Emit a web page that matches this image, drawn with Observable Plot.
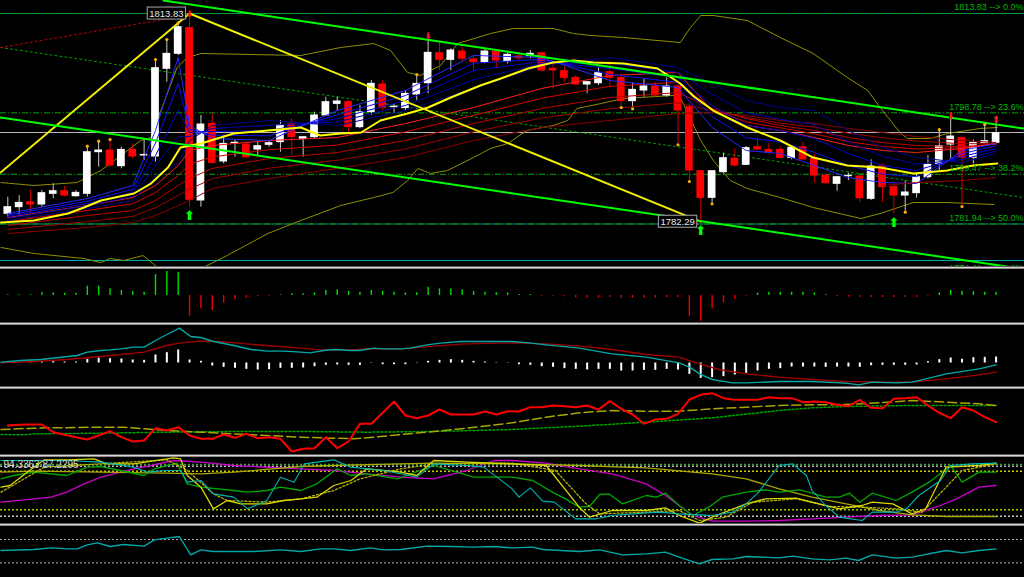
<!DOCTYPE html>
<html><head><meta charset="utf-8">
<script src="https://cdn.jsdelivr.net/npm/d3@7"></script>
<script src="https://cdn.jsdelivr.net/npm/@observablehq/plot@0.6"></script>
<style>
html,body{margin:0;padding:0;background:#000;width:1024px;height:577px;overflow:hidden;}
.pane{position:relative;width:1024px;overflow:hidden;background:#000;}
.sep{height:3px;width:1024px;background:linear-gradient(#5a5a5a 0 1px,#d8d8d8 1px 2px,#8a8a8a 2px 3px);}
svg{display:block;}
</style></head><body><div id="chart"></div><script>
// ---------- candles ----------
const open = [1783.48,1784.49,1785.24,1784.89,1786.51,1786.91,1786.15,1786.51,1792.82,1793.07,1790.70,1793.17,1792.32,1792.16,1805.45,1807.72,1811.61,1785.50,1797.11,1791.41,1794.18,1793.98,1793.22,1793.93,1794.34,1797.01,1794.84,1795.09,1798.38,1800.14,1800.40,1796.61,1798.88,1803.07,1799.64,1799.49,1801.56,1803.27,1807.82,1806.81,1808.07,1806.86,1806.46,1808.07,1806.61,1807.32,1807.37,1807.82,1805.45,1805.09,1804.08,1803.07,1803.27,1804.94,1804.08,1800.55,1802.16,1802.77,1801.41,1802.77,1799.64,1789.94,1785.90,1789.79,1791.81,1790.90,1793.58,1793.17,1793.17,1791.96,1793.58,1791.81,1789.28,1788.02,1789.18,1789.13,1785.75,1790.65,1787.52,1786.25,1786.61,1789.03,1791.05,1793.98,1794.94,1791.96,1794.18,1794.23];
const high = [1786.00,1786.25,1787.01,1787.01,1788.02,1787.62,1787.01,1793.58,1794.34,1794.59,1793.58,1794.08,1794.84,1806.71,1809.74,1812.26,1813.83,1798.38,1798.63,1795.35,1794.59,1794.34,1794.34,1794.59,1797.62,1797.87,1795.20,1798.88,1801.15,1801.15,1800.65,1799.89,1803.68,1803.68,1800.14,1802.16,1804.44,1810.50,1809.49,1808.48,1808.73,1807.47,1808.48,1808.33,1807.82,1807.97,1808.22,1807.97,1806.20,1805.70,1804.44,1803.43,1805.70,1806.61,1804.44,1803.27,1803.93,1803.43,1804.08,1803.17,1800.14,1790.04,1790.04,1792.67,1793.33,1793.68,1794.84,1794.18,1793.58,1793.68,1794.34,1792.57,1789.54,1789.13,1789.64,1789.28,1791.66,1791.05,1787.77,1788.43,1789.54,1792.32,1796.10,1798.38,1795.19,1794.69,1796.86,1797.87];
const low = [1782.97,1783.20,1783.48,1784.49,1785.75,1786.00,1786.00,1786.00,1790.55,1790.55,1790.30,1791.81,1791.56,1791.31,1803.43,1807.47,1784.49,1784.49,1791.05,1791.05,1792.06,1791.81,1792.32,1793.58,1792.82,1792.32,1792.06,1794.84,1798.38,1799.13,1795.85,1796.36,1798.38,1799.13,1798.63,1799.13,1800.65,1801.66,1805.19,1805.19,1806.46,1805.09,1806.20,1805.45,1806.20,1806.71,1806.96,1804.94,1802.42,1803.43,1802.92,1801.66,1802.92,1802.57,1799.74,1799.54,1801.15,1801.15,1801.15,1794.08,1788.53,1782.29,1785.14,1789.54,1790.55,1790.80,1793.07,1792.57,1791.81,1791.66,1791.56,1788.12,1788.02,1786.91,1788.53,1785.24,1785.50,1785.24,1783.48,1783.88,1785.85,1788.78,1790.04,1791.81,1784.74,1791.05,1794.08,1794.08];
const close = [1784.49,1785.14,1784.89,1786.61,1786.91,1786.25,1786.66,1792.82,1793.07,1790.80,1793.17,1792.16,1792.40,1805.55,1807.72,1811.76,1785.60,1797.01,1791.20,1794.08,1794.25,1792.06,1793.73,1794.18,1796.86,1795.09,1795.09,1798.38,1800.40,1800.50,1796.61,1798.88,1803.17,1799.54,1799.70,1801.66,1803.17,1807.87,1806.81,1808.22,1806.96,1806.46,1808.07,1806.71,1807.57,1807.06,1807.72,1805.19,1805.19,1804.08,1803.07,1803.43,1804.79,1804.08,1800.55,1802.26,1802.77,1801.41,1802.77,1799.13,1790.04,1785.90,1789.94,1791.91,1790.80,1793.43,1793.22,1792.77,1791.96,1793.48,1791.71,1789.28,1788.12,1789.03,1789.23,1785.85,1790.65,1787.52,1786.25,1786.71,1789.03,1790.90,1793.73,1795.19,1791.96,1794.23,1794.49,1795.70];

// ---------- main chart overlays ----------
const fibLevels = [1813.83, 1798.78, 1789.47, 1781.94, 1774.41];
const fibPct = ["0.0%", "23.6%", "38.2%", "50.0%", "61.8%"];
const bidPrice = 1795.80;
const cyanLevel = 1776.41;
const zigIdx = [-0.64, 16, 61];
const zigVal = [1789.74, 1813.83, 1782.29];
const trendUpIdx = [13.7, 89.4];
const trendUpVal = [1815.80, 1796.41];
const trendLoIdx = [-0.64, 89.5];
const trendLoVal = [1798.07, 1775.10];
const dotGreenIdx = [-0.64, 89.4];
const dotGreenVal = [1808.68, 1785.95];
const dotRedIdx = [-0.64, 15.8];
const dotRedVal = [1808.68, 1813.53];

const maIdx = [-0.6,2.3,5.3,6.7,8.2,11.1,12.6,14.1,15.2,17.0,19.9,22.9,25.8,27.5,29.3,31.1,32.8,35.2,37.0,39.0,41.6,43.4,45.8,48.0,49.8,51.6,54.2,57.2,59.2,60.4,62.1,65.1,68.0,70.9,73.9,76.8,79.7,82.7,85.0,87.1];
const maVal = [1782.16,1782.47,1783.53,1784.44,1785.50,1786.56,1788.07,1790.50,1793.53,1794.13,1795.65,1796.10,1796.56,1795.35,1795.65,1795.80,1797.62,1798.68,1799.59,1801.10,1802.92,1803.98,1805.50,1806.41,1806.71,1806.41,1806.25,1805.50,1803.22,1801.25,1799.13,1796.56,1794.59,1792.01,1790.80,1790.50,1789.59,1790.04,1790.80,1791.10];

const bbUIdx = [-0.6,2.3,6.1,8.2,11.7,12.6,14.9,15.8,17.0,25.8,29.3,32.2,33.7,35.2,36.3,38.1,39.6,42.5,44.5,48.0,49.8,51.3,54.2,59.2,60.1,61.0,62.1,65.1,68.0,70.9,73.9,75.7,76.8,78.6,79.2,81.2,82.7,85.6,87.1];
const bbUVal = [1788.22,1787.77,1788.22,1790.04,1794.59,1795.04,1805.65,1807.16,1807.77,1807.47,1808.68,1809.28,1808.22,1804.89,1804.44,1805.95,1809.28,1810.80,1811.56,1811.56,1810.80,1810.50,1810.19,1809.44,1811.71,1813.53,1813.53,1812.77,1810.19,1807.77,1804.13,1802.16,1799.59,1795.65,1794.89,1794.89,1795.65,1796.41,1796.56];
const bbLIdx = [-0.6,2.3,6.7,8.2,9.0,10.2,11.9,13.2,17.2,19.3,22.9,25.8,29.3,32.2,33.9,35.2,36.1,37.2,38.7,41.0,42.5,44.0,45.7,48.0,49.3,50.1,52.2,54.2,58.6,59.2,61.0,62.1,63.6,65.1,68.0,70.9,75.1,76.8,79.7,82.7,86.8];
const bbLVal = [1778.38,1777.47,1776.71,1776.10,1776.71,1776.41,1777.16,1775.35,1775.35,1777.16,1780.50,1782.47,1784.74,1785.95,1786.71,1788.53,1790.35,1789.59,1790.04,1792.01,1793.38,1794.13,1796.10,1796.86,1797.62,1799.44,1800.19,1800.95,1801.41,1801.10,1794.59,1791.56,1788.53,1787.31,1785.95,1784.44,1782.77,1783.53,1785.19,1785.19,1784.89];

const ribIdx = [0,7,11,13,15,16,18,23,29,35,41,47,53,59,62,65,68,71,74,77,80,84,87];
const blueFast = [1783.53,1785.80,1787.77,1796.10,1807.16,1796.86,1794.89,1794.59,1799.13,1802.16,1807.47,1807.16,1803.68,1802.62,1796.56,1793.07,1792.62,1790.80,1788.98,1788.22,1788.07,1793.07,1794.13];
const blueA = [1783.3,1785.4,1787.2,1794.2,1803.2,1796.3,1795.4,1795.3,1798.5,1801.4,1806.3,1806.9,1804.6,1803.4,1798.2,1795.0,1794.4,1792.8,1790.8,1789.5,1789.1,1792.6,1793.8];
const blueMid = [1783.07,1785.04,1786.71,1792.31,1799.13,1795.80,1795.95,1796.10,1797.92,1800.65,1805.19,1806.56,1805.50,1804.13,1799.89,1796.86,1796.10,1794.89,1792.62,1790.80,1790.04,1792.16,1793.38];
const blueB = [1782.8,1784.7,1786.1,1790.8,1795.1,1795.2,1796.4,1796.9,1797.4,1799.9,1803.8,1806.3,1806.3,1804.9,1801.6,1798.8,1797.8,1797.0,1794.4,1792.2,1791.0,1791.7,1793.0];
const blueSlow = [1782.47,1784.28,1785.50,1789.28,1791.10,1794.59,1796.86,1797.62,1796.86,1799.13,1802.47,1805.95,1807.16,1805.65,1803.22,1800.65,1799.59,1799.13,1796.10,1793.53,1792.01,1791.25,1792.62];
const redFast = [1782.92,1784.74,1785.95,1787.77,1790.80,1793.07,1793.83,1794.59,1795.04,1797.16,1799.59,1802.47,1804.44,1804.89,1799.13,1796.86,1796.10,1795.04,1793.83,1793.07,1792.77,1793.38,1794.13];
const redA = [1782.3,1784.0,1785.0,1786.7,1789.3,1791.0,1792.1,1793.2,1793.9,1795.9,1798.4,1801.0,1802.8,1803.4,1799.3,1797.4,1796.5,1795.6,1794.4,1793.7,1793.3,1793.5,1794.1];
const redMid = [1781.71,1783.22,1783.98,1785.50,1787.77,1788.83,1790.35,1791.86,1792.77,1794.59,1797.16,1799.44,1801.10,1801.86,1799.44,1797.92,1796.86,1796.10,1795.04,1794.28,1793.83,1793.68,1793.98];
const redB = [1781.1,1782.3,1783.1,1784.4,1786.3,1787.2,1788.8,1790.4,1791.6,1793.3,1795.9,1798.0,1799.4,1800.3,1799.1,1798.1,1797.2,1796.6,1795.7,1795.0,1794.5,1794.1,1794.1];
const redSlow = [1780.50,1781.41,1782.16,1783.22,1784.74,1785.50,1787.31,1788.83,1790.35,1792.01,1794.59,1796.56,1797.62,1798.68,1798.83,1798.38,1797.62,1797.16,1796.41,1795.80,1795.19,1794.59,1794.28];
const redLagIdx = [77, 80, 84, 87];
const redLagVal = [1787.77, 1788.22, 1788.53, 1788.98];

const dotIdx = [7,8,9,13,14,15,36,54,55,59,60,62,79,82,84,86,87];
const dotSide = ["h","h","h","h","h","h","h","l","l","l","l","l","l","h","l","h","h"];
const upArrowIdx = [16, 61, 78];
const downArrowIdx = [16, 37, 83, 87];
const boxIdx = [16, 61];
const boxSide = ["h", "l"];

// ---------- panel 2: histogram ----------
const hist = [2,2,2,8,8,7,7,28,28,20,15,12,10,63,72,70,-62,-40,-45,-23,-13,-8,-3,-2,2,5,5,8,15,17,12,10,15,12,10,8,8,25,20,20,17,12,10,8,8,3,3,-2,-2,-4,-7,-8,-8,-6,-8,-8,-8,-7,-6,-6,-63,-77,-40,-23,-12,-2,7,10,10,10,10,8,2,-3,-5,-6,-6,-6,-6,-6,-6,-2,8,15,13,12,10,10];

// ---------- panel 3: MACD ----------
const macdBars = [2,4,4,7,7,6,6,14,18,16,15,12,11,27,34,42,12,8,-6,-10,-13,-16,-18,-17,-13,-13,-12,-8,-4,-3,-4,-4,2,-2,-2,-2,2,8,11,13,11,8,6,4,4,-2,-4,-8,-10,-14,-16,-18,-16,-16,-21,-21,-19,-19,-16,-18,-31,-43,-41,-38,-33,-28,-21,-16,-14,-9,-9,-9,-10,-9,-9,-10,-5,-4,-4,-4,-3,7,13,18,14,19,20,21];
const macdCyanIdx = [-0.6,1.1,2.9,6.1,7.0,8.2,9.0,9.9,11.1,12.0,13.0,14.0,15.1,16.1,17.0,18.1,19.9,21.4,22.8,24.3,25.8,26.6,27.8,28.7,30.2,31.0,32.2,33.1,34.6,35.4,36.9,38.1,39.8,41.9,44.4,45.9,47.4,50.3,53.2,56.2,59.1,60.0,60.9,62.0,63.8,65.0,67.9,70.8,73.8,74.9,76.1,78.2,79.6,81.1,82.6,85.5,87.0];
const macdCyanVal = [4,9,12,24,34,39,41,44,49,49,69,87,106,81,78,66,54,42,37,37,34,32,39,42,39,39,46,44,44,46,56,61,66,66,66,62,56,46,29,19,2,-11,-31,-48,-58,-58,-54,-54,-59,-64,-56,-58,-56,-44,-31,-16,-4];
const macdRedIdx = [-0.6,2.3,5.2,8.2,12.0,14.0,15.2,17.0,18.4,19.9,22.8,25.8,27.5,30.2,31.6,34.6,37.5,40.4,44.4,47.4,50.3,53.2,56.2,59.1,60.9,62.6,65.0,67.9,70.8,73.8,76.7,79.6,82.6,85.5,87.0];
const macdRedVal = [2,6,12,21,34,54,62,67,66,62,54,46,41,41,44,44,52,59,62,59,52,42,27,19,-1,-18,-31,-41,-48,-54,-56,-56,-46,-34,-26];

// ---------- panel 4 ----------
const p4Red = [90,92,93,93,70,62,55,48,60,73,55,42,45,82,75,85,60,50,50,63,53,65,52,55,50,12,20,22,55,22,42,95,95,128,162,120,112,120,138,123,123,123,132,123,133,132,145,145,150,148,145,150,138,163,140,123,95,108,110,125,168,182,187,172,167,167,167,175,172,172,160,162,160,152,148,167,143,142,170,172,175,150,128,112,145,135,115,100];
const p4OliveIdx = [-0.6,2.3,3.8,8.2,10.2,12.0,14.0,17.0,19.9,22.8,25.8,28.7,30.5,31.6,34.6,37.5,40.4,44.4,47.4,50.3,53.2,56.2,59.1,62.0,65.0,67.9,70.8,73.8,76.7,79.6,82.6,85.5,87.0];
const p4OliveVal = [78,82,83,85,85,80,75,70,65,60,55,52,50,53,63,72,82,98,115,128,135,133,133,140,145,150,152,153,158,165,160,155,150];
const p4GreenIdx = [-0.6,1.4,2.3,8.2,14.0,19.9,25.8,31.6,37.5,44.4,50.3,56.2,62.0,67.9,70.8,73.8,79.6,87.0];
const p4GreenVal = [63,62,65,67,70,72,72,70,72,78,88,100,113,135,143,147,150,150];

// ---------- panel 5 ----------
const p5Label = "94.3363 87.2295";
const p5Levels = [178, 173, 158, 42, 23];
const p5LevelColor = ["#2ea82e", "#b0b0b0", "#c8c800", "#9ccc00", "#c0c0c0"];
const cyan5Idx = [-0.6,2.3,5.2,8.2,11.1,12.3,14.0,15.2,15.8,17.0,18.1,19.9,21.1,22.8,24.0,25.2,26.1,28.7,30.2,33.1,34.6,36.0,37.5,40.4,41.9,44.4,45.0,46.0,47.1,48.1,50.0,51.8,53.2,56.2,57.3,59.1,60.9,62.0,63.8,65.0,66.1,67.9,69.1,70.3,70.8,72.0,73.2,75.2,76.1,78.2,79.1,80.2,82.1,83.0,84.9,87.0];
const cyan5Val = [190,190,190,185,170,155,160,160,125,130,90,80,45,70,140,125,180,192,170,160,150,140,180,175,170,105,80,108,68,65,15,15,25,33,35,30,27,25,35,60,95,175,180,145,100,55,20,10,35,35,45,85,130,175,180,182];
const green5Idx = [-0.6,0.5,2.3,5.2,7.0,8.2,9.9,12.0,12.9,14.9,15.8,17.0,19.9,21.1,22.8,24.0,25.8,27.2,29.0,30.2,31.6,34.3,36.3,37.5,41.0,44.4,46.2,48.1,49.1,50.3,51.2,52.1,52.9,54.1,56.2,57.1,57.9,59.1,60.3,61.7,62.9,65.0,66.7,67.9,69.7,70.8,72.0,73.2,74.1,75.0,76.1,78.2,79.6,81.1,83.0,84.0,85.5,87.0];
const green5Val = [135,145,155,145,170,172,160,145,165,182,120,110,100,95,100,110,100,120,165,145,150,135,160,175,140,140,130,92,75,50,52,88,90,60,85,80,92,55,25,50,80,95,102,95,102,92,80,80,92,65,92,70,95,125,175,125,155,155];
const magenta5Idx = [-0.6,2.3,3.8,5.2,6.7,8.2,11.1,12.6,14.6,17.0,19.9,25.8,28.7,31.6,34.6,37.5,40.4,42.8,44.4,47.4,50.3,53.2,56.2,57.9,59.1,60.3,62.0,65.0,67.9,70.8,73.8,76.7,79.6,82.1,83.5,85.5,87.0];
const magenta5Val = [65,75,80,95,120,140,165,175,190,185,175,165,160,150,140,135,160,190,190,182,165,150,120,85,55,25,8,8,10,15,20,25,27,55,75,110,115];
const yellow5aIdx = [-0.6,0.2,1.7,3.2,5.2,7.6,8.7,11.1,14.6,15.2,15.8,17.0,18.1,19.3,20.5,22.8,24.3,25.8,27.2,28.7,30.2,31.6,33.1,34.6,36.0,37.5,40.4,44.4,47.4,50.3,51.2,53.2,56.2,57.9,59.1,60.9,62.0,65.0,66.7,69.4,70.8,73.2,75.2,76.1,77.9,79.6,80.8,82.6,85.5,87.0];
const yellow5aVal = [110,115,155,192,192,195,180,180,198,195,145,110,45,70,60,60,70,75,80,115,130,165,160,155,145,190,185,180,175,50,20,40,40,48,25,2,20,60,75,77,65,45,55,65,60,30,45,170,175,182];
const yellow5bIdx = [-0.6,2.3,8.2,14.0,17.0,19.9,25.8,28.7,34.6,37.5,44.4,50.3,56.2,62.0,65.0,67.9,70.8,73.8,76.7,79.6,82.6,87.0];
const yellow5bVal = [155,158,155,152,150,155,172,175,180,182,180,175,168,150,135,105,80,60,40,27,22,22];
const yellow5dIdx = [-0.6,1.7,3.2,14.0,15.8,18.1,19.3,22.8,25.8,28.7,31.0,34.6,37.5,44.4,48.2,50.9,52.1,56.2,59.1,60.9,63.2,65.6,69.4,72.3,75.2,78.2,80.5,82.6,84.0,87.0];
const yellow5dVal = [95,140,170,192,160,90,70,65,75,100,135,165,180,182,160,60,30,35,40,10,20,65,75,52,50,45,35,110,160,180];

// ---------- panel 6 ----------
const p6Levels = [114, 44];
const c6Idx = [-0.6,2.3,3.8,5.2,6.1,7.0,7.9,9.0,10.2,12.0,12.9,14.0,15.1,16.1,17.0,18.1,19.9,21.7,24.0,25.8,27.5,28.7,30.2,31.9,33.1,34.6,36.9,39.0,41.0,42.8,44.4,46.2,47.1,50.3,52.1,54.1,56.2,57.9,59.1,60.9,62.0,63.8,65.0,67.9,69.1,70.8,72.3,73.8,74.9,76.1,78.2,79.6,82.6,84.0,85.5,87.0];
const c6Val = [81,84,89,86,86,98,104,93,99,94,113,118,123,68,83,78,78,78,83,78,86,86,81,89,83,84,94,93,91,93,89,91,84,78,83,68,71,76,61,41,54,56,63,59,64,56,53,58,51,68,58,61,81,74,81,86];

// ================= drawing =================
const FONT = "'Liberation Sans', Arial, sans-serif";
const ser = (idx, val) => idx.map((i, k) => ({i, v: val[k]}));
const candles = open.map((o, i) => ({i, o, h: high[i], l: low[i], c: close[i], up: close[i] >= o}));
const XS = {domain: [-0.643, 89.5], axis: null};

function pane(h, ydom, marks) {
  return Plot.plot({
    width: 1024, height: h, margin: 0,
    x: XS, y: {domain: ydom, axis: null},
    style: {background: "#000", fontFamily: FONT, overflow: "hidden"},
    marks
  });
}
const L = (idx, val, o) => Plot.line(ser(idx, val), {x: "i", y: "v", clip: true, ...o});

const root = document.getElementById("chart");
function add(svg, h) {
  const d = document.createElement("div");
  d.className = "pane"; d.style.height = h + "px";
  d.appendChild(svg); root.appendChild(d); return svg;
}
function sep() { const s = document.createElement("div"); s.className = "sep"; root.appendChild(s); }

// ---- main panel ----
const fibs = fibLevels.map((p, k) => ({p, t: p.toFixed(2) + " --> " + fibPct[k]}));
const ribbons = [
  [redSlow, "#8b0000"], [redB, "#a00000"], [redMid, "#c00000"], [redA, "#d80000"], [redFast, "#ff2020"],
  [blueSlow, "#00008b"], [blueB, "#0000b0"], [blueMid, "#0000d0"], [blueA, "#1010f0"], [blueFast, "#2828ff"]
];
const mainMarks = [
  Plot.ruleY([fibLevels[0], fibLevels[3]], {y: d => d, stroke: "#007a7a", strokeWidth: 1}),
  Plot.ruleY(fibLevels, {y: d => d, stroke: "#00a800", strokeDasharray: "6,2,1,2", strokeWidth: 1}),
  Plot.ruleY([bidPrice], {y: d => d, stroke: "#b8b8b8", strokeWidth: 1}),
  Plot.ruleY([cyanLevel], {y: d => d, stroke: "#00b0b0", strokeWidth: 1}),
  L(bbUIdx, bbUVal, {stroke: "#8f8f00", strokeWidth: 1}),
  L(bbLIdx, bbLVal, {stroke: "#8f8f00", strokeWidth: 1}),
  L(dotGreenIdx, dotGreenVal, {stroke: "#00a000", strokeDasharray: "2,3", strokeWidth: 1}),
  L(dotRedIdx, dotRedVal, {stroke: "#c00000", strokeDasharray: "2,3", strokeWidth: 1}),
  Plot.ruleX(candles, {x: "i", y1: "l", y2: "h", stroke: d => d.up ? "#c8c8c8" : "#d00000", strokeWidth: 1}),
  Plot.rect(candles.filter(d => d.up), {x1: d => d.i - 0.34, x2: d => d.i + 0.34, y1: "o", y2: "c", fill: "#ffffff", insetTop: -0.5, insetBottom: -0.5}),
  Plot.rect(candles.filter(d => !d.up), {x1: d => d.i - 0.34, x2: d => d.i + 0.34, y1: "o", y2: "c", fill: "#ff0000", insetTop: -0.5, insetBottom: -0.5}),
  ...ribbons.map(([v, c]) => L(ribIdx, v, {stroke: c, strokeWidth: 1})),
  L(redLagIdx, redLagVal, {stroke: "#900000", strokeWidth: 1}),
  L(maIdx, maVal, {stroke: "#ffff00", strokeWidth: 2}),
  L(zigIdx, zigVal, {stroke: "#f0f000", strokeWidth: 2}),
  L(trendUpIdx, trendUpVal, {stroke: "#00ff00", strokeWidth: 2}),
  L(trendLoIdx, trendLoVal, {stroke: "#00ff00", strokeWidth: 2}),
  Plot.dot(dotIdx.filter((_, k) => dotSide[k] === "h").map(i => candles[i]), {x: "i", y: "h", r: 1.6, fill: "#ffb000", dy: -1}),
  Plot.dot(dotIdx.filter((_, k) => dotSide[k] === "l").map(i => candles[i]), {x: "i", y: "l", r: 1.6, fill: "#ffb000", dy: 1}),
  Plot.text(fibs, {y: "p", text: "t", frameAnchor: "right", textAnchor: "end", dx: -1, dy: -6, fill: "#00b800", fontSize: 9}),
  Plot.text(boxIdx.map((i, k) => ({i, p: boxSide[k] === "h" ? high[i] : low[i]})), {x: "i", y: "p", text: d => d.p.toFixed(2), textAnchor: "end", dx: -6, fill: "#e8e8e8", fontSize: 9.5}),
  Plot.text(upArrowIdx.map(i => candles[i]), {x: "i", y: "l", text: () => "⬆", fill: "#00ff00", fontSize: 13, fontFamily: "DejaVu Sans", fontWeight: "bold", dy: 9}),
  Plot.text(downArrowIdx.map(i => candles[i]), {x: "i", y: "h", text: () => "⬇", fill: "#ff1010", fontSize: 9, fontFamily: "DejaVu Sans", fontWeight: "bold", dy: 1})
];
const mainSvg = add(pane(266, [1775.50, 1815.80], mainMarks), 266);
sep();

// ---- panel 2 ----
const histData = hist.map((v, i) => ({i, v}));
add(pane(53, [-81, 78], [
  Plot.ruleX(histData.filter(d => d.v >= 0), {x: "i", y1: 0, y2: "v", stroke: "#00e000", strokeWidth: 1.4}),
  Plot.ruleX(histData.filter(d => d.v < 0), {x: "i", y1: 0, y2: "v", stroke: "#ee0000", strokeWidth: 1.4})
]), 53);
sep();

// ---- panel 3 ----
add(pane(61, [-69, 114], [
  Plot.ruleX(macdBars.map((v, i) => ({i, v})), {x: "i", y1: 0, y2: "v", stroke: "#ffffff", strokeWidth: 2, insetTop: -0.5, insetBottom: -0.5}),
  L(macdRedIdx, macdRedVal, {stroke: "#a00000", strokeWidth: 1.4}),
  L(macdCyanIdx, macdCyanVal, {stroke: "#00a8a8", strokeWidth: 1.4})
]), 61);
sep();

// ---- panel 4 ----
add(pane(65, [3, 198], [
  L(p4GreenIdx, p4GreenVal, {stroke: "#00a000", strokeWidth: 1.5, strokeDasharray: "2,2"}),
  L(p4OliveIdx, p4OliveVal, {stroke: "#a8a800", strokeWidth: 1.5, strokeDasharray: "9,4"}),
  Plot.line(p4Red.map((v, i) => ({i, v})), {x: "i", y: "v", stroke: "#ff0000", strokeWidth: 2})
]), 65);
sep();

// ---- panel 5 ----
add(pane(66, [1, 199], [
  Plot.ruleY(p5Levels.map((v, k) => ({v, c: p5LevelColor[k]})), {y: "v", stroke: d => d.c, strokeDasharray: "2,2", strokeWidth: 1.5}),
  L(magenta5Idx, magenta5Val, {stroke: "#c800c8", strokeWidth: 1.3}),
  L(yellow5bIdx, yellow5bVal, {stroke: "#a8a800", strokeWidth: 1.3}),
  L(green5Idx, green5Val, {stroke: "#00a800", strokeWidth: 1.3}),
  L(yellow5dIdx, yellow5dVal, {stroke: "#b4b400", strokeWidth: 1.3, strokeDasharray: "2,2"}),
  L(yellow5aIdx, yellow5aVal, {stroke: "#d8d800", strokeWidth: 1.3}),
  L(cyan5Idx, cyan5Val, {stroke: "#00b4b4", strokeWidth: 1.1}),
  Plot.text([p5Label], {text: d => d, frameAnchor: "top-left", dx: 3, dy: 3, textAnchor: "start", lineAnchor: "top", fill: "#d8d8d8", fontSize: 10})
]), 66);
sep();

// ---- panel 6 ----
add(pane(51, [0, 153], [
  Plot.ruleY(p6Levels, {y: d => d, stroke: "#b0b0b0", strokeDasharray: "2,2", strokeWidth: 1}),
  L(c6Idx, c6Val, {stroke: "#00a8a8", strokeWidth: 1.4})
]), 51);

// boxes around the two price labels (drawn behind the text, sized from its bounding box)
Array.from(mainSvg.querySelectorAll("text"))
  .filter(t => /^\d{4}\.\d{2}$/.test(t.textContent.trim()))
  .forEach(t => {
    const b = t.getBBox();
    const r = document.createElementNS("http://www.w3.org/2000/svg", "rect");
    r.setAttribute("x", b.x - 2); r.setAttribute("y", b.y - 0.5);
    r.setAttribute("width", b.width + 4); r.setAttribute("height", b.height + 1);
    r.setAttribute("fill", "#000"); r.setAttribute("stroke", "#a8a8a8"); r.setAttribute("stroke-width", "1");
    const tr = t.getAttribute("transform"); if (tr) r.setAttribute("transform", tr);
    t.parentNode.insertBefore(r, t);
  });
</script></body></html>
